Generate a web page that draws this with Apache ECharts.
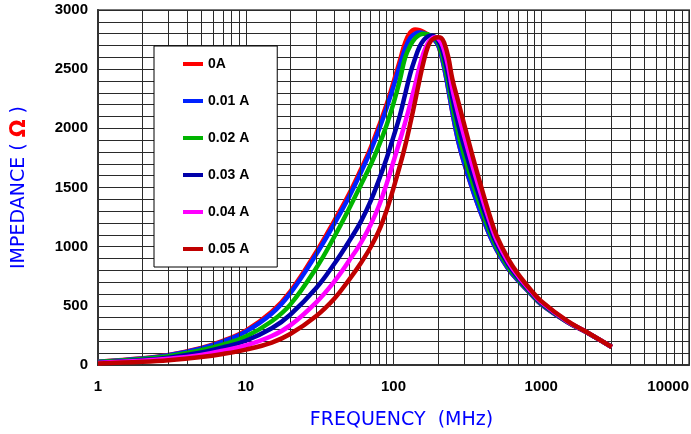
<!DOCTYPE html>
<html><head><meta charset="utf-8">
<script src="https://cdn.jsdelivr.net/npm/echarts@6/dist/echarts.min.js"></script>
<style>html,body{margin:0;padding:0;background:#fff}#c{width:691px;height:434px}</style>
</head><body><div id="c"></div>
<script>
const freqMHz = [1,2,3,5,7,10,15,20,30,40,50,60,70,80,90,100,110,120,130,140,150,160,170,180,190,200,210,220,235,250,275,300,350,400,450,500,600,700,850,1000,1500,2000,3000];
const z0A   = [28,57,85,145,205,290,450,620,955,1225,1445,1650,1835,2025,2205,2390,2565,2725,2810,2835,2830,2815,2795,2770,2745,2705,2625,2515,2330,2140,1885,1710,1450,1250,1090,970,810,712,600,512,363,280,152];
const z001A = [27,55,82,140,198,282,435,605,935,1200,1420,1625,1810,1995,2175,2355,2525,2675,2765,2800,2810,2805,2790,2770,2745,2705,2625,2515,2330,2140,1885,1710,1450,1250,1090,970,810,712,600,512,363,280,152];
const z002A = [25,50,75,125,172,240,370,510,820,1090,1320,1520,1690,1860,2030,2210,2400,2600,2700,2760,2790,2800,2795,2780,2760,2725,2653,2557,2384,2196,1952,1776,1505,1294,1123,994,827,723,607,518,365,281,152];
const z003A = [20,42,62,105,148,205,310,425,650,860,1045,1210,1385,1570,1750,1930,2100,2290,2465,2590,2690,2745,2775,2785,2775,2745,2690,2605,2446,2260,2029,1852,1568,1345,1161,1022,846,735,615,524,367,281,152];
const z004A = [17,35,52,85,120,165,245,335,530,710,880,1030,1185,1350,1535,1720,1890,2050,2210,2365,2520,2640,2715,2755,2770,2760,2725,2662,2519,2336,2120,1941,1643,1404,1206,1054,868,750,625,532,369,282,152];
const z005A = [13,27,40,67,93,130,190,262,415,565,720,860,995,1140,1310,1495,1676,1854,2042,2229,2409,2566,2682,2742,2763,2770,2765,2725,2600,2420,2220,2040,1725,1470,1255,1090,893,766,635,540,372,283,152];
const seriesNames = ['0A','0.01 A','0.02 A','0.03 A','0.04 A','0.05 A'];
const seriesColors = ['#ff0000','#0022ff','#00b400','#0000aa','#ff00ff','#c00000'];
const xMinorGrid = [2,3,4,5,6,7,8,9,20,30,40,50,60,70,80,90,200,300,400,500,600,700,800,900,2000,3000,4000,5000,6000,7000,8000,9000];

const allZ = [z0A, z001A, z002A, z003A, z004A, z005A];
const gridColor = '#2a2a2a';
const series = allZ.map((vals, i) => ({
  name: seriesNames[i], type: 'line',
  data: freqMHz.map((f, j) => [f, vals[j]]),
  showSymbol: false, smooth: 0.4, z: 3 + i,
  lineStyle: { width: 4.5, color: seriesColors[i] },
  itemStyle: { color: seriesColors[i] }
}));
series.unshift({
  type: 'line', name: 'grid', data: [], silent: true, z: 1,
  markLine: { silent: true, symbol: 'none', animation: false, label: { show: false },
    lineStyle: { color: gridColor, width: 1, type: 'solid' },
    emphasis: { disabled: true },
    data: xMinorGrid.map(v => ({ xAxis: v })) }
});

const chart = echarts.init(document.getElementById('c'));
chart.setOption({
  animation: false,
  backgroundColor: '#fff',
  grid: { left: 98, right: 2, top: 10, bottom: 69, show: true, borderColor: '#777', borderWidth: 2,
    containLabel: false, outerBoundsMode: 'none' },
  legend: {
    data: seriesNames, orient: 'vertical', left: 154, top: 46, z: 20,
    padding: [10, 28, 10, 29], itemGap: 21, itemWidth: 20, itemHeight: 4, icon: 'rect',
    backgroundColor: '#fff', borderColor: '#000', borderWidth: 1,
    textStyle: { color: '#000', fontWeight: 'bold', fontSize: 14, fontFamily: 'Liberation Sans, Arial', lineHeight: 16 }
  },
  xAxis: {
    type: 'log', logBase: 10, min: 1, max: 10000,
    axisLine: { show: true, onZero: false, lineStyle: { color: '#333', width: 2 } },
    axisTick: { show: false },
    axisLabel: { color: '#000', fontWeight: 'bold', fontSize: 15, fontFamily: 'Liberation Sans, Arial', margin: 14,
      alignMaxLabel: 'right', formatter: v => String(Math.round(v)) },
    splitLine: { show: true, lineStyle: { color: gridColor, width: 1 } },
    name: 'FREQUENCY  (MHz)', nameLocation: 'middle', nameGap: 46,
    nameTextStyle: { color: '#0000ff', fontSize: 19, fontFamily: 'DejaVu Sans', padding: [0, 0, 0, 16] }
  },
  yAxis: {
    type: 'value', min: 0, max: 3000, interval: 500,
    axisLine: { show: true, lineStyle: { color: '#333', width: 2 } },
    axisTick: { show: false },
    axisLabel: { color: '#000', fontWeight: 'bold', fontSize: 15, fontFamily: 'Liberation Sans, Arial', margin: 10,
      formatter: v => String(v) },
    splitLine: { show: true, lineStyle: { color: gridColor, width: 1 } },
    minorTick: { show: false, splitNumber: 5 },
    minorSplitLine: { show: true, lineStyle: { color: gridColor, width: 1 } },
    name: '{b|IMPEDANCE ( }{o|Ω}{b| )}', nameLocation: 'middle', nameGap: 68,
    nameTextStyle: { rich: {
      b: { color: '#0000ff', fontSize: 19, fontFamily: 'DejaVu Sans' },
      o: { color: '#ff0000', fontSize: 21, fontWeight: 'bold', fontFamily: 'DejaVu Sans' } } }
  },
  series: series
});
</script></body></html>
